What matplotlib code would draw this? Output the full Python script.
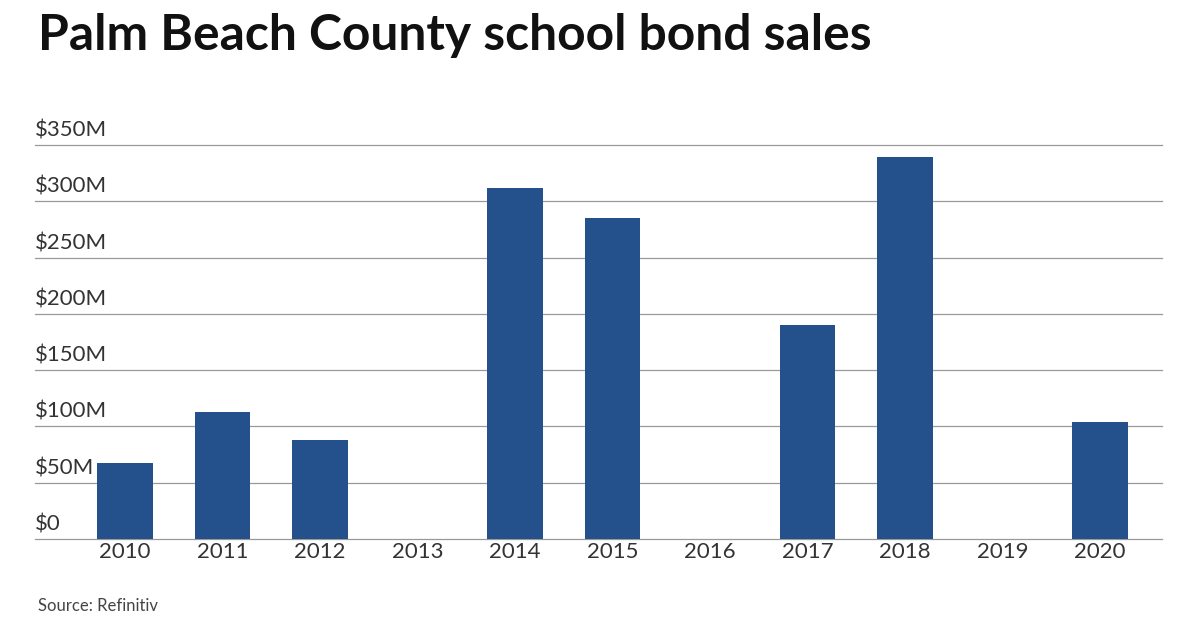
import matplotlib.pyplot as plt

years = ['2010', '2011', '2012', '2013', '2014', '2015', '2016', '2017', '2018', '2019', '2020']
sales_m = [67.5, 113, 88, 0, 312, 285, 0, 190, 339, 0, 104]
yticks = [0, 50, 100, 150, 200, 250, 300, 350]

plt.rcParams['font.family'] = ['Lato', 'DejaVu Sans']

fig = plt.figure(figsize=(12, 6.3), dpi=100)
ax = fig.add_axes([35/1200, 1 - 539/630, 1127/1200, 394/630])

x = list(range(len(years)))
ax.bar(x, sales_m, width=0.57, color='#24508c', zorder=3)
ax.set_xlim(-0.923, 10.636)
ax.set_ylim(0, 350)

for v in yticks:
    ax.axhline(v, color='#999999', lw=0.9, zorder=1, clip_on=False)
    ax.text(-0.923, v + 4, f'${v}M' if v else '$0', fontsize=16, color='#333333',
            ha='left', va='bottom', zorder=4)

ax.set_xticks(x)
ax.set_xticklabels(years, fontsize=16, color='#333333')
ax.tick_params(axis='x', length=0, pad=2)
ax.set_yticks([])
for s in ax.spines.values():
    s.set_visible(False)

fig.text(38/1200, 1 - 35/630, 'Palm Beach County school bond sales', fontsize=35.8,
         fontweight='bold', color='#111111', va='center', ha='left')
fig.text(38/1200, 1 - 606/630, 'Source: Refinitiv', fontsize=12, color='#444444',
         va='center', ha='left')

fig.savefig('out.png', dpi=100)
